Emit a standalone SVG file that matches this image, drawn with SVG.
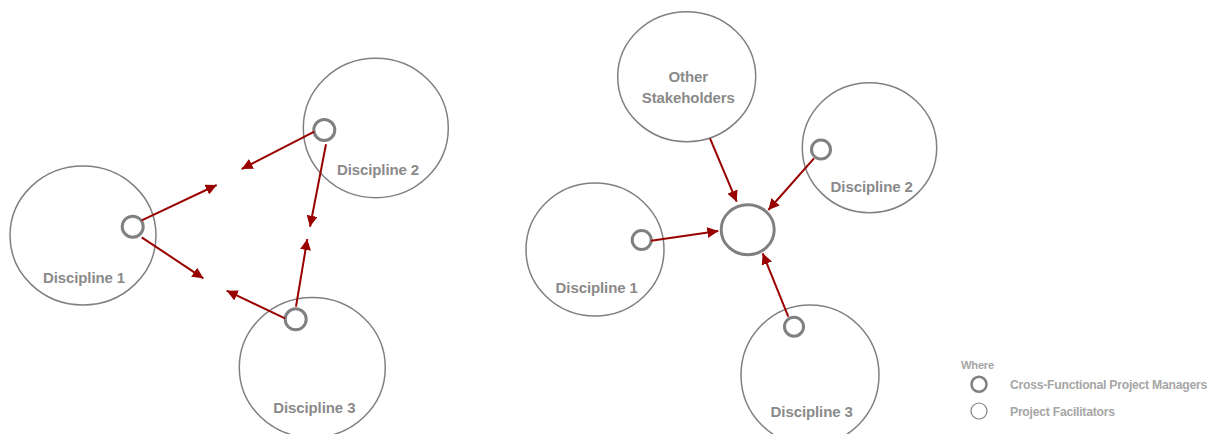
<svg xmlns="http://www.w3.org/2000/svg" width="1216" height="434" viewBox="0 0 1216 434">
<style>
.big{fill:#fff;stroke:#808080;stroke-width:1.5}
.pm{fill:#fff;stroke:#808080;stroke-width:3}
.pf{fill:#fff;stroke:#808080;stroke-width:1.2}
.lbl{font-family:"Liberation Sans",Arial,sans-serif;font-weight:bold;font-size:15px;fill:#8a8a8a;text-anchor:middle;letter-spacing:-0.1px}
.leg{font-family:"Liberation Sans",Arial,sans-serif;font-weight:bold;font-size:12.2px;fill:#a6a6a6;letter-spacing:-0.25px}
.arr{stroke:#990000;stroke-width:2;fill:none;marker-end:url(#ah)}
</style>
<defs>
<marker id="ah" markerUnits="userSpaceOnUse" markerWidth="11" markerHeight="11" refX="11" refY="5.5" orient="auto" viewBox="0 0 11 11">
<path d="M0,0 L11,5.5 L0,11 z" fill="#990000"/>
</marker>
</defs>
<rect width="1216" height="434" fill="#fff"/>
<g id="L-D1">
<ellipse class="big" cx="83" cy="235.5" rx="73" ry="69.5"/>
<circle class="pm" cx="132.7" cy="226.7" r="10.5"/>
<text class="lbl" x="84" y="283">Discipline 1</text>
</g>
<g id="L-D2">
<ellipse class="big" cx="375.8" cy="128" rx="72.5" ry="69.7"/>
<circle class="pm" cx="324.3" cy="130" r="10.5"/>
<text class="lbl" x="378" y="175">Discipline 2</text>
</g>
<g id="L-D3">
<ellipse class="big" cx="312.3" cy="367.5" rx="73" ry="70"/>
<circle class="pm" cx="295.7" cy="319.3" r="10.5"/>
<text class="lbl" x="314.3" y="413">Discipline 3</text>
</g>
<g id="R-OS">
<ellipse class="big" cx="686.7" cy="76.7" rx="69" ry="65"/>
<text class="lbl" x="688.3" y="82">Other</text>
<text class="lbl" x="688.3" y="103">Stakeholders</text>
</g>
<g id="R-D2">
<ellipse class="big" cx="869.5" cy="147.7" rx="67.2" ry="65"/>
<circle class="pm" cx="821" cy="149.5" r="9.5"/>
<text class="lbl" x="871.7" y="191.5">Discipline 2</text>
</g>
<g id="R-D1">
<ellipse class="big" cx="595" cy="249.5" rx="69" ry="66.5"/>
<circle class="pm" cx="641.7" cy="240" r="9.5"/>
<text class="lbl" x="596.7" y="293">Discipline 1</text>
</g>
<g id="R-D3">
<ellipse class="big" cx="810" cy="375" rx="69" ry="70"/>
<circle class="pm" cx="794" cy="326.7" r="9.5"/>
<text class="lbl" x="811.7" y="416.5">Discipline 3</text>
</g>
<g id="R-C">
<ellipse class="pm" cx="747.7" cy="229.7" rx="26.5" ry="25"/>
</g>
<g id="connectors">
<line class="arr" x1="141.7" y1="220.3" x2="216.7" y2="185"/>
<line class="arr" x1="141.7" y1="237.3" x2="203.3" y2="278.3"/>
<line class="arr" x1="285" y1="318.3" x2="226.7" y2="290.7"/>
<line class="arr" x1="296" y1="306.7" x2="307.3" y2="239"/>
<line class="arr" x1="326" y1="144.3" x2="310" y2="226.7"/>
<line class="arr" x1="314.3" y1="131.7" x2="241.7" y2="169"/>
<line class="arr" x1="710" y1="138.3" x2="736.7" y2="201.7"/>
<line class="arr" x1="814" y1="158.3" x2="768.3" y2="210"/>
<line class="arr" x1="651" y1="240.7" x2="718.3" y2="231"/>
<line class="arr" x1="788.3" y1="316.7" x2="762.7" y2="253.3"/>
</g>
<g id="legend">
<text class="leg" x="961" y="369" style="font-size:11.2px">Where</text>
<circle class="pm" cx="979" cy="384.3" r="7.5" style="stroke-width:2.5"/>
<text class="leg" x="1010" y="388.5">Cross-Functional Project Managers</text>
<circle class="pf" cx="979" cy="411" r="8"/>
<text class="leg" x="1010" y="415.5">Project Facilitators</text>
</g>
</svg>
